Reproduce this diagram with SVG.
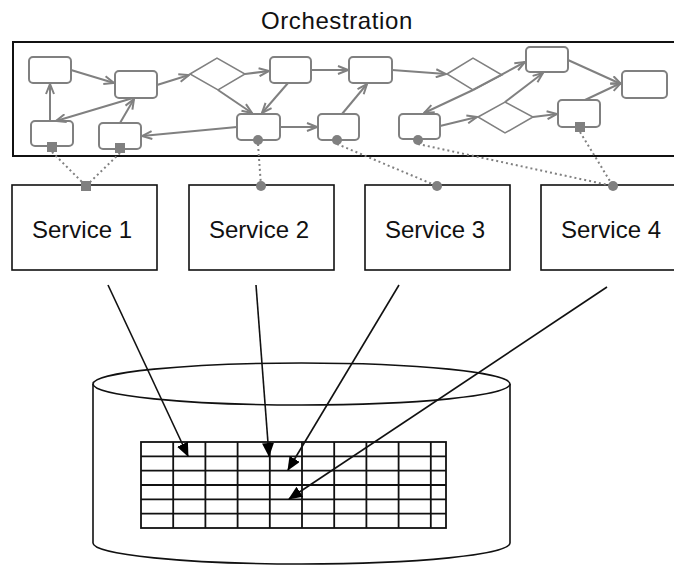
<svg xmlns="http://www.w3.org/2000/svg" width="674" height="565" viewBox="0 0 674 565">
<style>
.lbl{font-family:"Liberation Sans",Arial,sans-serif;font-size:24px;fill:#111}
.frame{fill:#fff;stroke:#111;stroke-width:2}
.svc{fill:#fff;stroke:#111;stroke-width:1.6}
.task{fill:#fff;stroke:#808080;stroke-width:2}
.gw{fill:#fff;stroke:#808080;stroke-width:1.5}
.flow{fill:none;stroke:#808080;stroke-width:2;marker-end:url(#oa)}
.dot{fill:none;stroke:#808080;stroke-width:2;stroke-dasharray:2 3}
.port{fill:#808080;stroke:none}
.db{fill:#fff;stroke:#111;stroke-width:1.6}
.grid{fill:none;stroke:#111;stroke-width:1.8}
.data{fill:none;stroke:#111;stroke-width:1.6;marker-end:url(#fa)}
</style>
<defs>
<marker id="oa" viewBox="0 0 12 10" refX="11" refY="5" markerWidth="12" markerHeight="10" markerUnits="userSpaceOnUse" orient="auto"><path d="M1,1 L11,5 L1,9" fill="none" stroke="#808080" stroke-width="2"/></marker>
<marker id="fa" viewBox="0 0 14 12" refX="13" refY="6" markerWidth="14" markerHeight="12" markerUnits="userSpaceOnUse" orient="auto"><path d="M0,0 L14,6 L0,12 z" fill="#000"/></marker>
</defs>
<rect width="674" height="565" fill="#fff"/>

<g id="orchestration">
<text class="lbl" x="261" y="29" letter-spacing="0.6">Orchestration</text>
<rect class="frame" x="13" y="42" width="680" height="114"/>
</g>

<g id="services">
<g id="service1"><rect class="svc" x="12" y="185" width="145" height="85"/><text class="lbl" x="32" y="238">Service 1</text></g>
<g id="service2"><rect class="svc" x="189" y="185" width="145" height="85"/><text class="lbl" x="209" y="238">Service 2</text></g>
<g id="service3"><rect class="svc" x="365" y="185" width="145" height="85"/><text class="lbl" x="385" y="238">Service 3</text></g>
<g id="service4"><rect class="svc" x="541" y="185" width="145" height="85"/><text class="lbl" x="561" y="238">Service 4</text></g>
</g>

<g id="database">
<path class="db" d="M93,384 L93,543 A208.5,21 0 0 0 510,543 L510,384"/>
<ellipse class="db" cx="301.5" cy="384" rx="208.5" ry="21"/>
<g id="table" class="grid">
<rect x="141" y="442" width="305" height="86"/>
<path d="M141,456.3H446M141,470.7H446M141,485H446M141,499.3H446M141,513.7H446"/>
<path d="M173.2,442V528M205.4,442V528M237.6,442V528M269.8,442V528M302,442V528M334.2,442V528M366.4,442V528M398.6,442V528M430.8,442V528"/>
</g>
</g>

<g id="tasks">
<rect id="tA" class="task" x="29" y="57" width="42" height="26" rx="4"/>
<rect id="tB" class="task" x="115" y="71" width="42" height="27" rx="4"/>
<rect id="tC" class="task" x="31" y="121" width="42" height="25" rx="4"/>
<rect id="tD" class="task" x="99" y="123" width="42" height="26" rx="4"/>
<rect id="tE" class="task" x="237" y="114" width="43" height="26" rx="4"/>
<rect id="tF" class="task" x="270" y="57" width="41" height="26" rx="4"/>
<rect id="tK" class="task" x="349" y="57" width="43" height="26" rx="4"/>
<rect id="tL" class="task" x="318" y="114" width="41" height="26" rx="4"/>
<rect id="tJ" class="task" x="399" y="114" width="41" height="25" rx="4"/>
<rect id="tG" class="task" x="526" y="47" width="42" height="25" rx="4"/>
<rect id="tH" class="task" x="622" y="71" width="45" height="27" rx="4"/>
<rect id="tI" class="task" x="558" y="100" width="42" height="27" rx="4"/>
<polygon id="gw1" class="gw" points="190,74 217,58 245,74 218,90"/>
<polygon id="gw2" class="gw" points="447,74 473,58 502,75 473,90"/>
<polygon id="gw3" class="gw" points="478,117 505,102 533,117 505,133"/>
</g>

<g id="connectors">
<path class="flow" d="M50,121 L50,84"/>
<path class="flow" d="M71,70 L114,83"/>
<path class="flow" d="M133,98 L56,121"/>
<path class="flow" d="M120,123 L134,99"/>
<path class="flow" d="M157,85 L189,75"/>
<path class="flow" d="M237,127 L142,136"/>
<path class="flow" d="M245,74 L269,71"/>
<path class="flow" d="M218,90 L252,113"/>
<path class="flow" d="M288,83 L262,113"/>
<path class="flow" d="M280,127 L317,127"/>
<path class="flow" d="M311,70 L348,70"/>
<path class="flow" d="M342,114 L367,84"/>
<path class="flow" d="M392,70 L446,74"/>
<path class="flow" d="M473,90 L424,113"/>
<path class="flow" d="M473,90 L525,62"/>
<path class="flow" d="M440,126 L477,117"/>
<path class="flow" d="M505,102 L543,73"/>
<path class="flow" d="M533,117 L557,114"/>
<path class="flow" d="M568,60 L621,84"/>
<path class="flow" d="M585,100 L621,83"/>
<path class="dot" d="M52,152 L86,186"/>
<path class="dot" d="M120,153 L86,186"/>
<path class="dot" d="M258,144 L261,186"/>
<path class="dot" d="M337,144 L437,186"/>
<path class="dot" d="M418,144 L613,186"/>
<path class="dot" d="M580,132 L613,186"/>
<rect class="port" x="47" y="142" width="10" height="10"/>
<rect class="port" x="115" y="143" width="10" height="10"/>
<circle class="port" cx="258" cy="140" r="5"/>
<circle class="port" cx="337" cy="140" r="5"/>
<circle class="port" cx="418" cy="140" r="5"/>
<rect class="port" x="575" y="122" width="10" height="10"/>
<rect class="port" x="81" y="181" width="10" height="10"/>
<circle class="port" cx="261" cy="186" r="5"/>
<circle class="port" cx="437" cy="186" r="5"/>
<circle class="port" cx="613" cy="186" r="5"/>
<path class="data" d="M108,285 L188,456"/>
<path class="data" d="M256,285 L269,456"/>
<path class="data" d="M399,285 L288,470"/>
<path class="data" d="M607,287 L289,499"/>
</g>
</svg>
